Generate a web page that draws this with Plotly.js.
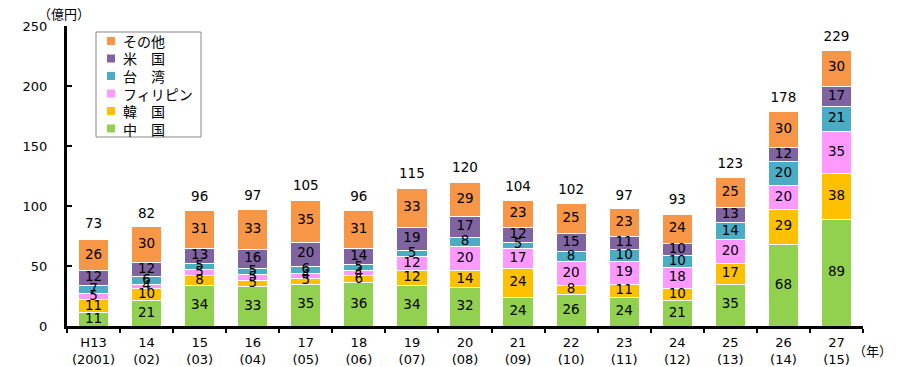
<!DOCTYPE html>
<html>
<head>
<meta charset="utf-8">
<script src="https://cdn.plot.ly/plotly-3.0.1.min.js"></script>
<style>
  html, body { margin: 0; padding: 0; background: #fff; }
  #chart { width: 904px; height: 367px; }
</style>
</head>
<body>
<div id="chart"></div>
<script>
// Fiscal years (Heisei era) and their western-calendar equivalents
const eraYears = ['H13', '14', '15', '16', '17', '18', '19', '20', '21', '22', '23', '24', '25', '26', '27'];
const westernYears = ['(2001)', '(02)', '(03)', '(04)', '(05)', '(06)', '(07)', '(08)', '(09)', '(10)', '(11)', '(12)', '(13)', '(14)', '(15)'];

// Amounts by country (unit: 100 million yen)
const china       = [11, 21, 34, 33, 35, 36, 34, 32, 24, 26, 24, 21, 35, 68, 89];
const korea       = [11, 10, 8, 5, 5, 6, 12, 14, 24, 8, 11, 10, 17, 29, 38];
const philippines = [5, 4, 5, 5, 4, 4, 12, 20, 17, 20, 19, 18, 20, 20, 35];
const taiwan      = [7, 6, 5, 5, 6, 5, 5, 8, 5, 8, 10, 10, 14, 20, 21];
const usa         = [12, 12, 13, 16, 20, 14, 19, 17, 12, 15, 11, 10, 13, 12, 17];
const others      = [26, 30, 31, 33, 35, 31, 33, 29, 23, 25, 23, 24, 25, 30, 30];
const totals      = [73, 82, 96, 97, 105, 96, 115, 120, 104, 102, 97, 93, 123, 178, 229];

const seriesNames = ['中\u3000国', '韓\u3000国', 'フィリピン', '台\u3000湾', '米\u3000国', 'その他'];
const seriesValues = [china, korea, philippines, taiwan, usa, others];
const seriesColors = ['#92D050', '#FFC000', '#FF99FF', '#4BACC6', '#8064A2', '#F79646'];

const categories = eraYears.map((e, i) => e + '<br>' + westernYears[i]);

const numFont = 'DejaVu Sans, Verdana, sans-serif';
const jpFont = 'Noto Sans CJK JP, DejaVu Sans, sans-serif';

// Plot area geometry in pixels (used to place the legend box)
const W = 904, H = 367;
const M = { l: 67, r: 41, t: 26, b: 41 };
const plotW = W - M.l - M.r, plotH = H - M.t - M.b;
const px = x => (x - M.l) / plotW;
const py = y => (H - M.b - y) / plotH;

// Stacked bars
const traces = seriesValues.map((vals, k) => ({
  type: 'bar',
  name: seriesNames[k],
  x: categories,
  y: vals,
  marker: { color: seriesColors[k], line: { color: '#ffffff', width: 1 } },
  hoverinfo: 'x+y+name',
  showlegend: false
}));

// Value labels centred in each segment, drawn above all bars
const base = categories.map(() => 0);
seriesValues.forEach(vals => {
  traces.push({
    type: 'scatter',
    mode: 'text',
    x: categories,
    y: vals.map((v, i) => base[i] + v / 2),
    text: vals.map(String),
    textposition: 'middle center',
    textfont: { family: numFont, size: 13.5, color: '#000' },
    showlegend: false,
    hoverinfo: 'skip',
    cliponaxis: false
  });
  vals.forEach((v, i) => { base[i] += v; });
});

// Totals printed above each stack (invisible marker sets the gap)
traces.push({
  type: 'scatter',
  mode: 'markers+text',
  x: categories,
  y: totals,
  text: totals.map(String),
  textposition: 'top center',
  marker: { size: 9, opacity: 0 },
  textfont: { family: numFont, size: 13.5, color: '#000' },
  showlegend: false,
  hoverinfo: 'skip',
  cliponaxis: false
});

// Legend: framed box with small colour squares, top entry = last series
const shapes = [{
  type: 'rect', xref: 'paper', yref: 'paper',
  x0: px(96), x1: px(201), y0: py(137), y1: py(32),
  line: { color: '#888', width: 1 }, fillcolor: '#fff', layer: 'above'
}];
const annotations = [];
const legendRows = seriesNames.map((n, k) => k).reverse();
legendRows.forEach((k, row) => {
  const cy = 41 + row * 17.5;
  shapes.push({
    type: 'rect', xref: 'paper', yref: 'paper',
    x0: px(107), x1: px(115), y0: py(cy + 4), y1: py(cy - 4),
    line: { width: 0 }, fillcolor: seriesColors[k], layer: 'above'
  });
  annotations.push({
    text: seriesNames[k], xref: 'paper', yref: 'paper',
    x: px(121), y: py(cy), xanchor: 'left', yanchor: 'middle',
    showarrow: false, font: { family: jpFont, size: 14, color: '#000' }
  });
});

annotations.push(
  { text: '（億円）', xref: 'paper', yref: 'paper', x: px(64), y: py(13),
    xanchor: 'center', yanchor: 'middle', showarrow: false,
    font: { family: jpFont, size: 13, color: '#000' } },
  { text: '（年）', xref: 'paper', yref: 'paper', x: px(872), y: py(350),
    xanchor: 'center', yanchor: 'middle', showarrow: false,
    font: { family: jpFont, size: 13, color: '#000' } }
);

const layout = {
  width: W,
  height: H,
  margin: M,
  paper_bgcolor: '#fff',
  plot_bgcolor: '#fff',
  barmode: 'stack',
  bargap: 0.43,
  showlegend: false,
  xaxis: {
    type: 'category',
    range: [-0.5, 14.5],
    tickson: 'boundaries',
    tickangle: 0,
    ticks: 'outside',
    ticklen: 4,
    tickwidth: 2,
    tickcolor: '#000',
    showline: true,
    linecolor: '#000',
    linewidth: 3,
    showgrid: false,
    zeroline: false,
    ticklabelstandoff: 2,
    tickfont: { family: numFont, size: 13, color: '#000' }
  },
  yaxis: {
    range: [0, 250],
    tickvals: [0, 50, 100, 150, 200, 250],
    ticks: 'inside',
    ticklen: 5,
    tickwidth: 2,
    tickcolor: '#000',
    showline: true,
    linecolor: '#000',
    linewidth: 3,
    showgrid: false,
    zeroline: false,
    tickfont: { family: numFont, size: 13, color: '#000' },
    ticklabelstandoff: 14
  },
  shapes: shapes,
  annotations: annotations
};

Plotly.newPlot('chart', traces, layout, { displayModeBar: false, staticPlot: true });
</script>
</body>
</html>
